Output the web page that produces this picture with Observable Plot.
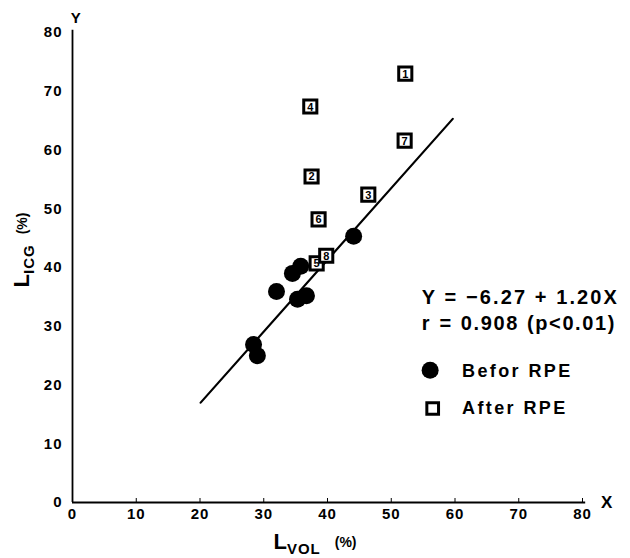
<!DOCTYPE html>
<html>
<head>
<meta charset="utf-8">
<script src="https://cdn.jsdelivr.net/npm/d3@7"></script>
<script src="https://cdn.jsdelivr.net/npm/@observablehq/plot@0.6"></script>
<style>
  html, body { margin: 0; padding: 0; background: #fff; }
  #chart svg { display: block; }
</style>
</head>
<body>
<div id="chart"></div>
<script>
// Before RPE (filled circles)
const beforeX = [44.1, 34.5, 35.8, 32.0, 35.3, 36.7, 28.4, 29.0];
const beforeY = [45.3, 39.0, 40.2, 35.9, 34.6, 35.2, 26.9, 25.0];
// After RPE (numbered squares)
const afterId = ["1", "2", "3", "4", "5", "6", "7", "8"];
const afterX = [52.2, 37.5, 46.4, 37.3, 38.3, 38.6, 52.1, 39.8];
const afterY = [73.0, 55.5, 52.4, 67.4, 40.7, 48.2, 61.6, 42.0];
// Regression line endpoints (Y = -6.27 + 1.20X)
const lineX = [20.1, 59.65];
const lineY = [17.0, 65.3];
// Ticks
const xTicks = [0, 10, 20, 30, 40, 50, 60, 70, 80];
const yTicks = [0, 10, 20, 30, 40, 50, 60, 70, 80];
const eqText = ["Y = \u22126.27 + 1.20X", "r = 0.908 (p<0.01)"];
const legendLabels = ["Befor RPE", "After RPE"];

const before = beforeX.map((x, i) => ({x, y: beforeY[i]}));
const after = afterX.map((x, i) => ({x, y: afterY[i], id: afterId[i]}));
const line = lineX.map((x, i) => ({x, y: lineY[i]}));

const font = "'Liberation Sans', Arial, Helvetica, sans-serif";

const plot = Plot.plot({
  width: 630,
  height: 558,
  marginLeft: 72,
  marginRight: 48,
  marginTop: 32,
  marginBottom: 56,
  style: {fontFamily: font, fontWeight: "bold", fontSize: "15px", color: "#000", background: "#fff"},
  x: {domain: [0, 80]},
  y: {domain: [0, 80]},
  marks: [
    Plot.axisX(xTicks, {tickSize: -4, tickPadding: 10, fontSize: 15, fontWeight: "bold", label: null, strokeWidth: 1}),
    Plot.axisY(yTicks, {tickSize: 0, tickPadding: 10, fontSize: 15, fontWeight: "bold", label: null}),
    Plot.ruleX([0], {y1: 0, y2: 80.4, stroke: "#000", strokeWidth: 1.8}),
    Plot.ruleY([0], {x1: 0, x2: 80.5, stroke: "#000", strokeWidth: 1.8}),
    Plot.text(["Y"], {x: 0.5, y: 82.4, text: d => d, fontSize: 15, fontWeight: "bold"}),
    Plot.text(["X"], {x: 83.8, y: 0, text: d => d, fontSize: 17, fontWeight: "bold"}),
    Plot.line(line, {x: "x", y: "y", stroke: "#000", strokeWidth: 2.2}),
    Plot.dot(before, {x: "x", y: "y", r: 8.5, fill: "#000", stroke: "none"}),
    Plot.dot(after, {x: "x", y: "y", symbol: "square", r: 7.4, fill: "#fff", stroke: "#000", strokeWidth: 3}),
    Plot.text(after, {x: "x", y: "y", text: "id", fontSize: 11, fontWeight: "bold", dy: 0.5}),
    // equation / stats
    Plot.text([eqText[0]], {x: 54.8, y: 34.8, text: d => d, textAnchor: "start", fontSize: 20, fontWeight: "bold"}),
    Plot.text([eqText[1]], {x: 54.8, y: 30.5, text: d => d, textAnchor: "start", fontSize: 20, fontWeight: "bold"}),
    // legend
    Plot.dot([0], {x: 56.1, y: 22.5, r: 8.5, fill: "#000"}),
    Plot.dot([0], {x: 56.5, y: 16.0, symbol: "square", r: 6.6, fill: "#fff", stroke: "#000", strokeWidth: 3}),
    Plot.text([legendLabels[0]], {x: 61.1, y: 22.3, text: d => d, textAnchor: "start", fontSize: 18, fontWeight: "bold"}),
    Plot.text([legendLabels[1]], {x: 61.1, y: 16.0, text: d => d, textAnchor: "start", fontSize: 18, fontWeight: "bold"})
  ]
});

const svg = d3.select(plot);
// letter spacing for annotation and legend texts
svg.selectAll("text").filter(function() { return this.textContent === eqText[0]; })
  .attr("letter-spacing", "2.1px");
svg.selectAll("text").filter(function() { return this.textContent === eqText[1]; })
  .attr("letter-spacing", "1.6px").attr("word-spacing", "1px");
svg.selectAll("text").filter(function() { return legendLabels.includes(this.textContent); })
  .attr("letter-spacing", "2.4px");
svg.selectAll("g[aria-label='x-axis tick label'] text, g[aria-label='y-axis tick label'] text")
  .attr("letter-spacing", "1px");

// axis titles with subscripts
const xt = svg.append("text")
  .attr("x", 315).attr("y", 549)
  .attr("text-anchor", "middle")
  .attr("font-family", font).attr("font-weight", "bold").attr("fill", "#000");
xt.append("tspan").attr("font-size", 22).text("L");
xt.append("tspan").attr("font-size", 15).attr("dy", 5).attr("letter-spacing", "1px").text("VOL");
xt.append("tspan").attr("font-size", 14).attr("dy", -7).attr("dx", 14).text("(%)");

const yt = svg.append("text")
  .attr("transform", "translate(29,250) rotate(-90)")
  .attr("text-anchor", "middle")
  .attr("font-family", font).attr("font-weight", "bold").attr("fill", "#000");
yt.append("tspan").attr("font-size", 22).text("L");
yt.append("tspan").attr("font-size", 15).attr("dy", 5).attr("letter-spacing", "1px").text("ICG");
yt.append("tspan").attr("font-size", 14).attr("dy", -7).attr("dx", 10).text("(%)");

document.getElementById("chart").appendChild(plot);
</script>
</body>
</html>
